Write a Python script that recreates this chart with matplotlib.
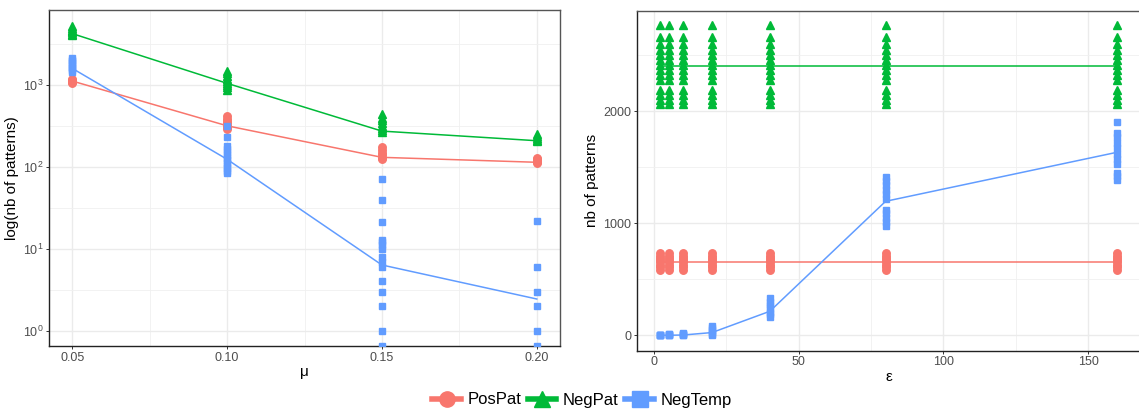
import matplotlib.pyplot as plt
from matplotlib.lines import Line2D
from matplotlib.ticker import FixedLocator, NullFormatter, LogFormatterSciNotation

plt.rcParams["font.family"] = ["Liberation Sans", "DejaVu Sans"]

# ---- left panel: mu (log scale) ----
mu_vals = [0.05, 0.10, 0.15, 0.20]
pospat_mu_pts = [
    [1070, 1090, 1110, 1130, 1150, 1180],
    [290, 305, 320, 340, 365, 390, 420],
    [125, 130, 140, 150, 160, 175],
    [112, 116, 120, 124, 128],
]
negpat_mu_pts = [
    [4100, 4250, 4400, 4550, 4750, 4950, 5250],
    [880, 940, 1000, 1060, 1120, 1200, 1300, 1400, 1480],
    [265, 280, 300, 320, 345, 370, 400, 440],
    [205, 215, 225, 240, 255],
]
negtemp_mu_pts = [
    [1450, 1520, 1600, 1680, 1760, 1850, 1950, 2040, 2140],
    [84, 90, 97, 104, 112, 120, 130, 140, 152, 165, 180, 232, 316],
    [0, 1, 2, 3, 4, 6, 7, 8, 10, 11, 12, 13, 21, 39, 71],
    [0, 1, 2, 3, 6, 22],
]
pospat_mu_mean = [1120, 318, 131, 114]
negpat_mu_mean = [4250, 1050, 274, 209]
negtemp_mu_mean = [1600, 124, 6.35, 2.44]

# ---- right panel: epsilon (linear) ----
eps_vals = [2, 5, 10, 20, 40, 80, 160]
pospat_eps_pts = [585, 610, 630, 650, 670, 690, 710, 735]
negpat_eps_pts = [2063, 2098, 2143, 2188, 2277, 2321, 2366, 2411, 2455,
                  2500, 2545, 2604, 2664, 2768]
negtemp_eps_pts = [
    [0, 1, 2, 4, 5],
    [0, 2, 4, 7, 10],
    [0, 3, 8, 15, 24],
    [0, 10, 25, 45, 65, 83],
    [167, 190, 210, 240, 270, 300, 330],
    [976, 1010, 1050, 1090, 1119, 1217, 1260, 1300, 1340, 1380, 1417],
    [1387, 1420, 1453, 1529, 1570, 1620, 1670, 1720, 1770, 1810, 1902],
]
pospat_eps_mean = [654, 654, 654, 654, 654, 654, 654]
negpat_eps_mean = [2400, 2400, 2400, 2400, 2400, 2400, 2400]
negtemp_eps_mean = [0, 0, 2, 24, 214, 1196, 1634]

series = ["PosPat", "NegPat", "NegTemp"]
colors = ["#F8766D", "#00BA38", "#619CFF"]
markers = ["o", "^", "s"]
msizes = [5.4, 5.4, 4.3]

W, H = 1139, 413
fig = plt.figure(figsize=(W / 100, H / 100), dpi=100)
axL = fig.add_axes([49 / W, 1 - 346 / H, (560 - 49) / W, (346 - 10) / H])
axR = fig.add_axes([637 / W, 1 - 350.7 / H, (1140 - 637) / W, (350.7 - 10.7) / H])


def style(ax):
    ax.set_facecolor("white")
    for s in ["top", "right"]:
        ax.spines[s].set_color("#555555")
    for s in ["left", "bottom"]:
        ax.spines[s].set_color("#222222")
    for s in ax.spines.values():
        s.set_linewidth(1.0)
    ax.grid(True, which="major", color="#EBEBEB", lw=1.0, zorder=0)
    ax.grid(True, which="minor", color="#F0F0F0", lw=0.6, zorder=0)
    ax.set_axisbelow(True)
    ax.tick_params(which="major", length=2.5, width=0.7, color="#333333",
                   labelsize=9, labelcolor="#4D4D4D", pad=1.5)
    ax.tick_params(which="minor", length=0)


# left
ylo, yhi = 10 ** (-0.1865), 10 ** (3.73 + 0.1865)
axL.set_yscale("log")
for name, col, mk, ms, pts, mean in zip(
        series, colors, markers, msizes,
        [pospat_mu_pts, negpat_mu_pts, negtemp_mu_pts],
        [pospat_mu_mean, negpat_mu_mean, negtemp_mu_mean]):
    axL.plot(mu_vals, mean, color=col, lw=1.1, zorder=2)
    for x, vals in zip(mu_vals, pts):
        # zeros (log -> -Inf) sit on the panel edge, as ggplot draws them
        yv = [v if v > 0 else ylo for v in vals]
        axL.plot([x] * len(yv), yv, ls="none", marker=mk, ms=ms, color=col,
                 mec=col, zorder=3)
axL.set_xlim(0.0425, 0.2075)
axL.set_ylim(ylo, yhi)
axL.set_xticks(mu_vals)
axL.set_xticklabels(["0.05", "0.10", "0.15", "0.20"])
axL.xaxis.set_minor_locator(FixedLocator([0.075, 0.125, 0.175]))
axL.yaxis.set_major_locator(FixedLocator([1, 10, 100, 1000]))
axL.yaxis.set_major_formatter(LogFormatterSciNotation())
axL.yaxis.set_minor_locator(FixedLocator([10 ** 0.5, 10 ** 1.5, 10 ** 2.5, 10 ** 3.5]))
axL.yaxis.set_minor_formatter(NullFormatter())
style(axL)
axL.set_xlabel("μ", fontsize=11, labelpad=1)
axL.set_ylabel("log(nb of patterns)", fontsize=11, labelpad=3)

# right
for name, col, mk, ms, pts, mean in zip(
        series, colors, markers, msizes,
        [[pospat_eps_pts] * len(eps_vals), [negpat_eps_pts] * len(eps_vals), negtemp_eps_pts],
        [pospat_eps_mean, negpat_eps_mean, negtemp_eps_mean]):
    axR.plot(eps_vals, mean, color=col, lw=1.1, zorder=2)
    for x, vals in zip(eps_vals, pts):
        axR.plot([x] * len(vals), vals, ls="none", marker=mk, ms=ms, color=col,
                 mec=col, zorder=3)
axR.set_xlim(-5.9, 167.9)
axR.set_ylim(-138, 2898)
axR.set_xticks([0, 50, 100, 150])
axR.xaxis.set_minor_locator(FixedLocator([25, 75, 125]))
axR.set_yticks([0, 1000, 2000])
axR.yaxis.set_minor_locator(FixedLocator([500, 1500, 2500]))
style(axR)
axR.spines["right"].set_visible(False)
axR.set_xlabel("ε", fontsize=11, labelpad=1)
axR.set_ylabel("nb of patterns", fontsize=11, labelpad=3)

handles = [Line2D([0], [0], color=c, lw=4, marker=m, ms=11, mec=c)
           for c, m in zip(colors, markers)]
fig.legend(handles, series, loc="center", bbox_to_anchor=(582 / W, 1 - 400 / H),
           ncol=3, frameon=False, fontsize=12, handlelength=1.7,
           handletextpad=0.4, columnspacing=0.4)

fig.savefig("out.png", dpi=100)
